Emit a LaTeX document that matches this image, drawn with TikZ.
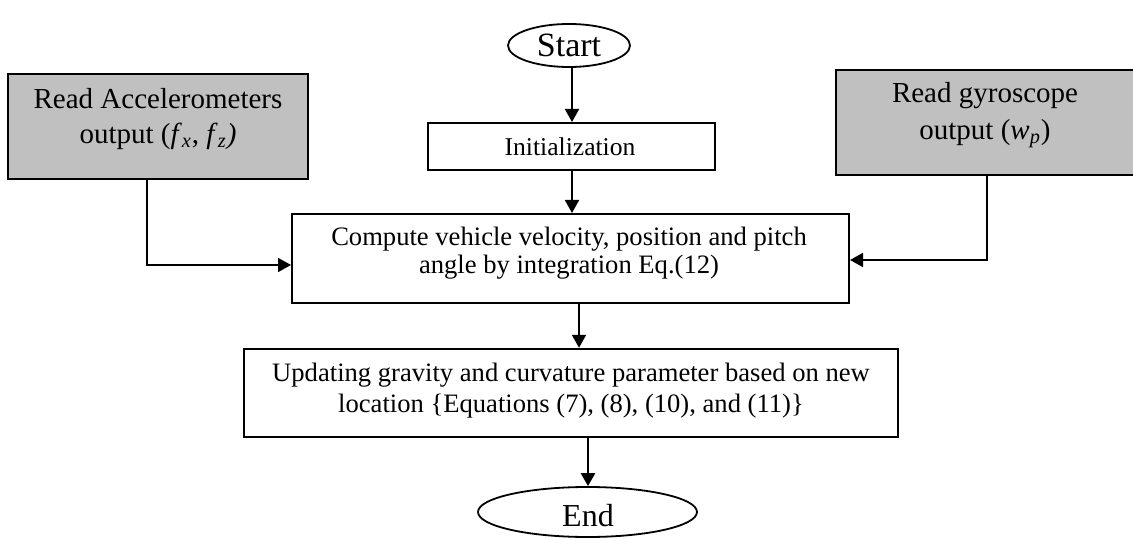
\documentclass[tikz,border=0pt]{standalone}
\usepackage{fontspec}
\setmainfont{Liberation Serif}
\usetikzlibrary{arrows.meta,shapes.geometric}
\begin{document}
\begin{tikzpicture}[x=0.5pt,y=-0.5pt,
  shapebox/.style={draw,line width=1pt,inner sep=0pt},
  graybox/.style={shapebox,fill={rgb,255:red,192;green,192;blue,192}},
  txt/.style={inner sep=0pt,align=center},
  term/.style={draw,ellipse,line width=0.9pt,inner sep=0pt},
  arr/.style={line width=0.9pt,-{Triangle[length=6.5pt,width=7pt]}},
  thickarr/.style={line width=1.4pt,-{Triangle[length=6.5pt,width=7pt]}}]
\useasboundingbox (0,0) rectangle (1133,539);
% terminals
\node[term,minimum width=61pt,minimum height=21.5pt,font=\fontsize{17}{19}\selectfont] (start) at (569,45.5) {Start};
\node[term,minimum width=109.5pt,minimum height=25pt] (end) at (587.5,512) {};
\node[txt,font=\fontsize{16}{18}\selectfont] (endt) at (588,516) {End};
% process boxes
\node[shapebox,minimum width=143.5pt,minimum height=23.5pt] (init) at (571.5,146.5) {};
\node[txt,font=\fontsize{12.8}{15}\selectfont] (initt) at (570,147) {Initialization};
\node[shapebox,minimum width=278.5pt,minimum height=44.5pt] (comp) at (570.5,258.5) {};
\node[txt,font=\fontsize{13.3}{14}\selectfont] (compt) at (569,253) {Compute vehicle velocity, position and pitch\\angle by integration Eq.(12)};
\node[shapebox,line width=1.2pt,minimum width=327pt,minimum height=44pt] (upd) at (571,393) {};
\node[txt,font=\fontsize{13.3}{15.5}\selectfont] (updt) at (571,391) {Updating gravity and curvature parameter based on new\\location \{Equations (7), (8), (10), and (11)\}};
% input boxes
\node[graybox,minimum width=150pt,minimum height=52.5pt] (acc) at (158,126.5) {};
\node[txt,font=\fontsize{14.5}{17.5}\selectfont] (acct) at (158,119) {Read Accelerometers\\output (\textit{f}\textsubscript{\textit{x}}, \textit{f}\textsubscript{\textit{z}}\textit{)}};
\node[graybox,minimum width=153pt,minimum height=52.5pt] (gyr) at (988.5,122.5) {};
\node[txt,font=\fontsize{14.5}{18.5}\selectfont] (gyrt) at (985,115) {Read gyroscope\\output (\textit{w}\textsubscript{\textit{p}})};
% connectors
\coordinate (accb) at (147,179);
\coordinate (gyrb) at (987,175);
\draw[arr] (start.south -| 572,0) -- (init.north -| 572,0);
\draw[arr] (init.south -| 572,0) -- (comp.north -| 572,0);
\draw[arr] (comp.south -| 579,0) -- (upd.north -| 579,0);
\draw[thickarr] (upd.south -| 588,0) -- (end.north -| 588,0);
\draw[arr] (accb) |- (comp.west |- 0,265);
\draw[arr] (gyrb) |- (comp.east |- 0,260);
\end{tikzpicture}
\end{document}
